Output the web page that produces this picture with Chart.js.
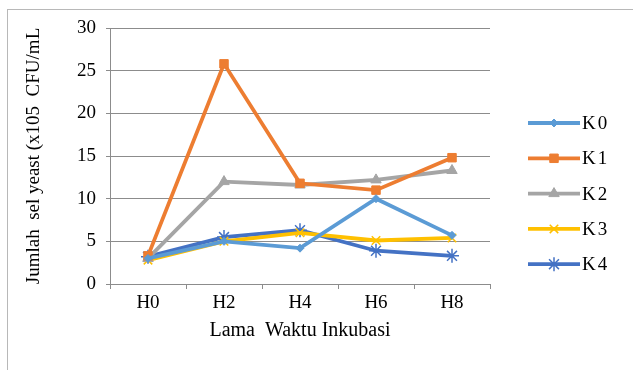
<!DOCTYPE html>
<html>
<head>
<meta charset="utf-8">
<script src="https://cdn.jsdelivr.net/npm/chart.js@4.4.0/dist/chart.umd.min.js"></script>
<style>
  html, body { margin: 0; padding: 0; background: #fff; }
  #wrap { width: 633px; height: 370px; position: relative; }
</style>
</head>
<body>
<div id="wrap"><canvas id="line-chart" width="633" height="370"></canvas></div>
<script>
const categories = ["H0", "H2", "H4", "H6", "H8"]
const seriesNames = ["K0", "K1", "K2", "K3", "K4"]
const k0 = [3.0, 5.0, 4.2, 10.0, 5.7]
const k1 = [3.3, 25.8, 11.8, 11.0, 14.8]
const k2 = [3.0, 12.0, 11.6, 12.2, 13.3]
const k3 = [2.8, 5.0, 6.0, 5.1, 5.4]
const k4 = [3.2, 5.5, 6.3, 3.9, 3.3]
const yTicks = [0, 5, 10, 15, 20, 25, 30]

const colors = ["#5b9bd5", "#ed7d31", "#a5a5a5", "#ffc000", "#4472c4"]
const markers = ["rectRot", "rect", "triangle", "crossRot", "star"]
const radii = [4, 6, 6, 6, 7]
const values = [k0, k1, k2, k3, k4]

const font = "'Liberation Serif', 'Times New Roman', serif"

const datasets = seriesNames.map((name, i) => ({
  label: name,
  data: values[i],
  borderColor: colors[i],
  backgroundColor: colors[i],
  borderWidth: 3.8,
  pointStyle: markers[i],
  pointRadius: radii[i],
  pointBorderWidth: markers[i] === "crossRot" || markers[i] === "star" ? 1.5 : 1,
  pointBorderColor: colors[i],
  tension: 0,
}))

// frame round the whole picture
const framePlugin = {
  id: "frame",
  beforeDraw(chart) {
    const c = chart.ctx
    c.save()
    c.fillStyle = "#fff"
    c.fillRect(0, 0, chart.width, chart.height)
    c.strokeStyle = "#b8b8b8"
    c.lineWidth = 1
    c.strokeRect(7.5, 9.5, 640, 380)
    c.restore()
  },
}

// legend: line with marker, then label
const legendPlugin = {
  id: "sideLegend",
  afterDraw(chart) {
    const c = chart.ctx
    const area = chart.chartArea
    const x0 = area.right + 38
    let y = area.top + 95
    c.save()
    chart.data.datasets.forEach((ds) => {
      c.strokeStyle = ds.borderColor
      c.lineWidth = ds.borderWidth
      c.beginPath()
      c.moveTo(x0, y)
      c.lineTo(x0 + 52, y)
      c.stroke()
      c.fillStyle = ds.backgroundColor
      c.strokeStyle = ds.borderColor
      c.lineWidth = ds.pointBorderWidth
      Chart.helpers.drawPoint(c, {
        pointStyle: ds.pointStyle,
        radius: ds.pointRadius,
        rotation: 0,
        borderWidth: ds.pointBorderWidth,
      }, x0 + 26, y)
      c.fillStyle = "#000"
      c.font = "19px " + font
      c.letterSpacing = "2px"
      c.textBaseline = "middle"
      c.fillText(ds.label, x0 + 54, y + 1)
      y += 35.3
    })
    c.restore()
  },
}

new Chart(document.getElementById("line-chart"), {
  type: "line",
  data: { labels: categories, datasets },
  plugins: [framePlugin, legendPlugin],
  options: {
    responsive: false,
    animation: false,
    layout: { padding: { left: 20, right: 143, top: 28, bottom: 18 } },
    plugins: { legend: { display: false }, tooltip: { enabled: false } },
    scales: {
      x: {
        offset: true,
        grid: { offset: true, drawOnChartArea: false, color: "#8c8c8c", tickLength: 5 },
        border: { color: "#8c8c8c" },
        ticks: { color: "#000", font: { family: font, size: 19 }, padding: 3 },
        title: {
          display: true,
          text: "Lama  Waktu Inkubasi",
          color: "#000",
          font: { family: font, size: 20 },
          padding: { top: 0, bottom: 9 },
        },
        afterFit(s) { s.height = 68 },
      },
      y: {
        min: 0,
        max: 30,
        afterBuildTicks(s) { s.ticks = yTicks.map((v) => ({ value: v })) },
        grid: { color: "#8c8c8c", drawTicks: true, tickLength: 4 },
        border: { color: "#8c8c8c" },
        ticks: { color: "#000", font: { family: font, size: 19 }, padding: 10 },
        title: {
          display: true,
          text: "Jumlah  sel yeast (x105  CFU/mL",
          color: "#000",
          font: { family: font, size: 19 },
          padding: { top: 3, bottom: 8 },
        },
        afterFit(s) { s.width = 90 },
      },
    },
  },
})
</script>
</body>
</html>
